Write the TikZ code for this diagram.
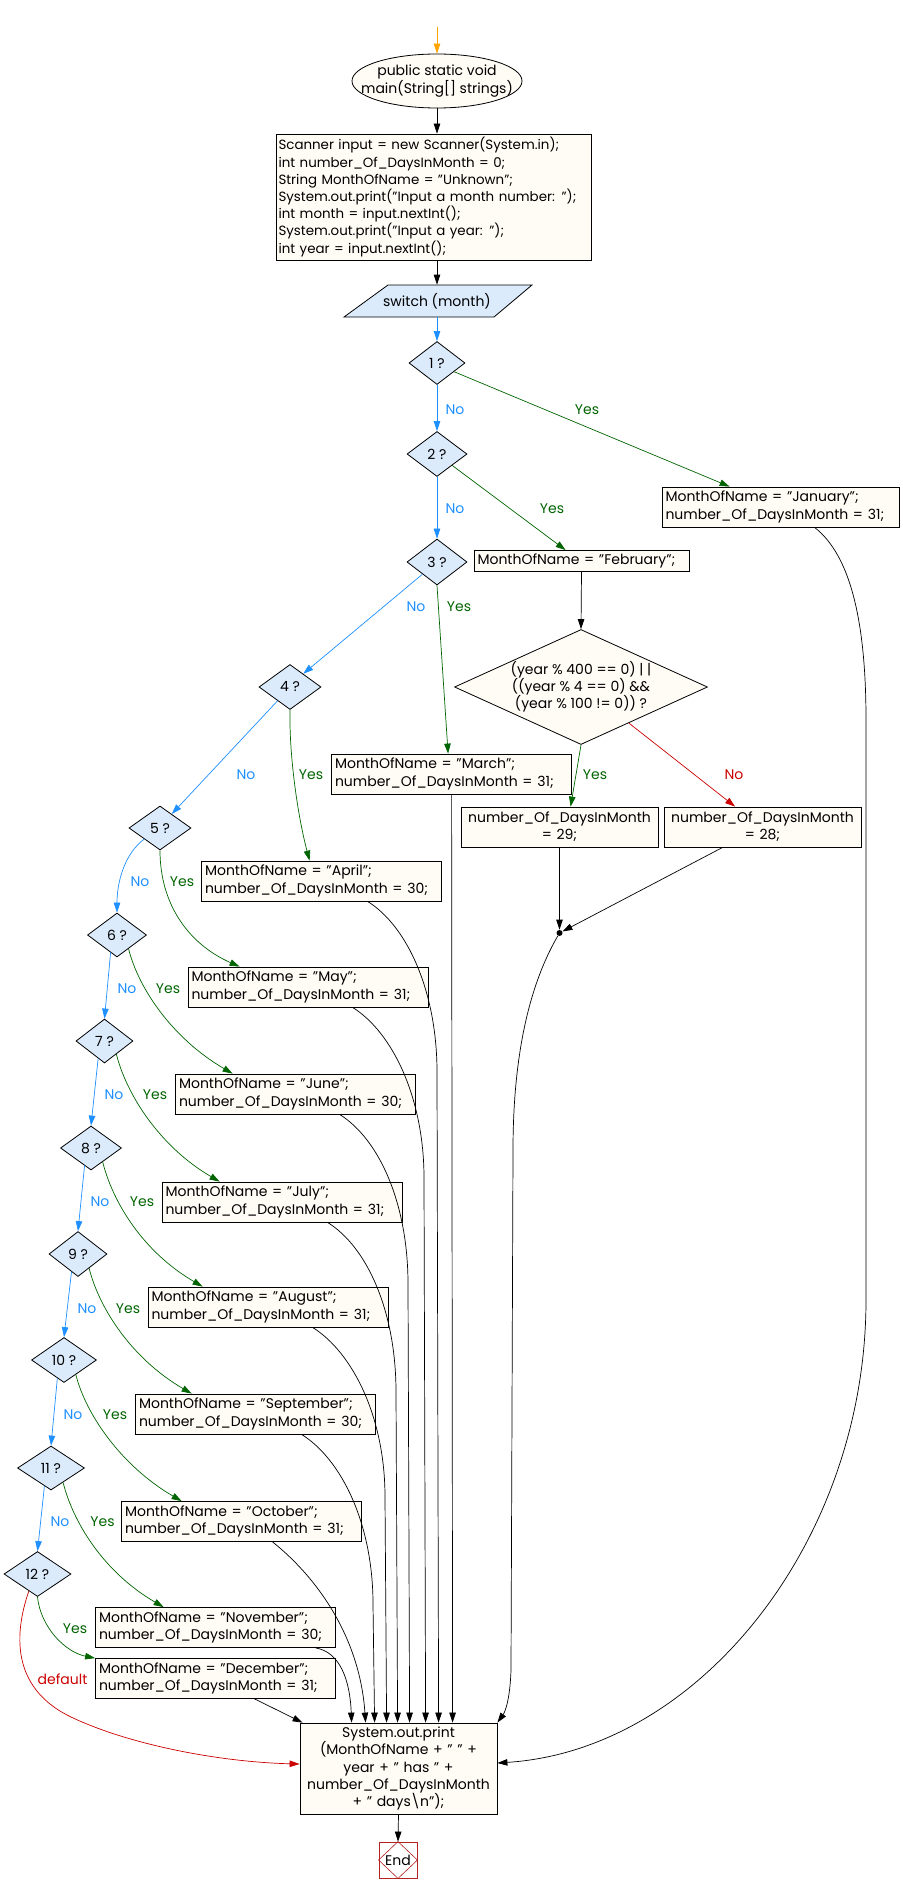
\documentclass[tikz,border=0pt]{standalone}
\usepackage{fontspec}
\setmainfont{Poppins}
\usetikzlibrary{arrows.meta,shapes.geometric,calc}
\definecolor{dfill}{RGB}{220,235,252}
\definecolor{bfill}{RGB}{255,251,245}
\definecolor{nob}{RGB}{30,144,255}
\definecolor{yesg}{RGB}{0,100,0}
\definecolor{nor}{RGB}{204,0,0}
\definecolor{endc}{RGB}{178,34,34}
\definecolor{startc}{RGB}{255,165,0}
\tikzset{
  tip/.style={-{Triangle[length=10pt,width=6.5pt]}},
  dec/.style={diamond, draw, fill=dfill, inner sep=0pt, aspect=1.4, line width=0.8pt},
  mbox/.style={rectangle, draw, fill=bfill, inner xsep=3.5pt, inner ysep=0pt, minimum height=40pt, text width=233pt, align=left, line width=0.8pt},
  lab/.style={inner sep=1pt},
}
\begin{document}
\begin{tikzpicture}[x=1pt,y=-1pt,line width=0.7pt,font=\fontsize{14}{17.2}\selectfont]
\useasboundingbox (0,0) rectangle (902,1894);
\fill[white] (0,0) rectangle (902,1894);

% start
\draw[fill=bfill, line width=0.8pt] (437,81) ellipse [x radius=85pt, y radius=27pt];
\node[minimum width=170pt, minimum height=54pt, inner sep=0pt, align=center] (main) at (437,81) {public static void\\main(String[] strings)};
\coordinate (start) at (437,27);
\draw[tip, startc] (start) -- (main.north);

\node[mbox, minimum width=315pt, minimum height=126pt, text width=310pt, inner xsep=2.5pt, font=\fontsize{13.4}{17.2}\selectfont] (code) at (433.5,197) {Scanner input = new Scanner(System.in);\\int number\_Of\_DaysInMonth = 0;\\String MonthOfName = "Unknown";\\System.out.print("Input a month number: ");\\int month = input.nextInt();\\System.out.print("Input a year: ");\\int year = input.nextInt();};
\draw[tip] (main.south) -- (main.south |- code.north);

\path[draw, fill=dfill, line width=0.8pt] (344,317) -- (494,317) -- (532,285) -- (388,285) -- cycle;
\node[inner sep=0pt, minimum width=100pt, minimum height=32pt] (sw) at (437,301) {switch (month)};
\draw[tip] (sw.north |- code.south) -- (sw.north);

% decisions
\node[dec, minimum width=56pt, minimum height=43pt] (d1) at (437,363) {1 ?};
\node[dec, minimum width=60pt, minimum height=45pt] (d2) at (437,454) {2 ?};
\node[dec, minimum width=60pt, minimum height=46pt] (d3) at (437,562) {3 ?};
\node[dec, minimum width=62pt, minimum height=45pt] (d4) at (290,687) {4 ?};
\node[dec, minimum width=62pt, minimum height=44pt] (d5) at (160,828) {5 ?};
\node[dec, minimum width=59pt, minimum height=44pt] (d6) at (117,935) {6 ?};
\node[dec, minimum width=57pt, minimum height=44pt] (d7) at (104.5,1041) {7 ?};
\node[dec, minimum width=61pt, minimum height=44pt] (d8) at (91,1148) {8 ?};
\node[dec, minimum width=58pt, minimum height=45pt] (d9) at (78,1254) {9 ?};
\node[dec, minimum width=65pt, minimum height=45pt] (d10) at (64,1360) {10 ?};
\node[dec, minimum width=67pt, minimum height=44pt] (d11) at (51,1468) {11 ?};
\node[dec, minimum width=67pt, minimum height=45pt] (d12) at (37.5,1574) {12 ?};

% month boxes
\node[mbox, minimum width=237pt, text width=230pt] (jan) at (780.5,507) {MonthOfName = "January";\\number\_Of\_DaysInMonth = 31;};
\node[mbox, minimum height=21pt, text width=208pt] (feb) at (581.5,561) {MonthOfName = "February";};
\node[mbox] (mar) at (451.5,774) {MonthOfName = "March";\\number\_Of\_DaysInMonth = 31;};
\node[mbox] (apr) at (321.5,881) {MonthOfName = "April";\\number\_Of\_DaysInMonth = 30;};
\node[mbox] (may) at (308,987) {MonthOfName = "May";\\number\_Of\_DaysInMonth = 31;};
\node[mbox] (jun) at (295.5,1094) {MonthOfName = "June";\\number\_Of\_DaysInMonth = 30;};
\node[mbox] (jul) at (282,1202) {MonthOfName = "July";\\number\_Of\_DaysInMonth = 31;};
\node[mbox] (aug) at (268,1307) {MonthOfName = "August";\\number\_Of\_DaysInMonth = 31;};
\node[mbox] (sep) at (255.5,1414) {MonthOfName = "September";\\number\_Of\_DaysInMonth = 30;};
\node[mbox] (oct) at (241.5,1521.5) {MonthOfName = "October";\\number\_Of\_DaysInMonth = 31;};
\node[mbox] (nov) at (215.5,1627.5) {MonthOfName = "November";\\number\_Of\_DaysInMonth = 30;};
\node[mbox] (dec) at (215.5,1678.5) {MonthOfName = "December";\\number\_Of\_DaysInMonth = 31;};

% leap year
\node[diamond, draw, fill=bfill, aspect=2.2, inner sep=0pt, minimum width=247pt, minimum height=113pt, align=center, line width=0.8pt] (leap) at (581,687) {(year \% 400 == 0) | |\\((year \% 4 == 0) \&\&\\(year \% 100 != 0)) ?};
\node[mbox, text width=190pt, align=center] (b29) at (559.5,827) {number\_Of\_DaysInMonth\\= 29;};
\node[mbox, text width=190pt, align=center] (b28) at (762.5,827) {number\_Of\_DaysInMonth\\= 28;};
\node[circle, fill=black, inner sep=0pt, minimum size=6pt] (dot) at (559.5,933) {};

% print and end
\node[mbox, text width=190pt, align=center, minimum height=91pt] (print) at (398.5,1768.5) {System.out.print\\(MonthOfName + " " +\\year + " has " +\\number\_Of\_DaysInMonth\\+ " days\textbackslash n");};
\node[draw=endc, fill=white, minimum width=38pt, minimum height=36pt, inner sep=0pt, line width=0.8pt] (end) at (398,1860) {};
\draw[endc, line width=0.6pt] (end.north) -- (end.west) -- (end.south) -- (end.east) -- cycle;
\node[inner sep=0pt] (endt) at (end.center) {End};
\draw[tip] (print.south) -- (end.north);

% No connectors
\draw[tip, nob] (sw.south) -- (d1.north);
\draw[tip, nob] (d1.south) -- (d2.north);
\draw[tip, nob] (d2.south) -- (d3.north);
\draw[tip, nob] (d3.220) -- (d4.45);
\draw[tip, nob] (d4.228) -- (d5.50);
\draw[tip, nob] (d5.215) .. controls +(-20,15) and +(0,-30) .. (d6.north);
\draw[tip, nob] (d6.250) -- (d7.north);
\draw[tip, nob] (d7.250) -- (d8.north);
\draw[tip, nob] (d8.250) -- (d9.north);
\draw[tip, nob] (d9.250) -- (d10.north);
\draw[tip, nob] (d10.250) -- (d11.north);
\draw[tip, nob] (d11.250) -- (d12.north);

% Yes connectors
\draw[tip, yesg] (d1.-27) -- ($(jan.north west)+(68,0)$);
\draw[tip, yesg] (d2.-37) -- ($(feb.north west)+(92,0)$);
\draw[tip, yesg] (d3.south) -- ($(mar.north west)+(117,0)$);
\draw[tip, yesg] (d4.south) .. controls +(-1,45) and +(-12,-45) .. ($(apr.north west)+(108.5,0)$);
\draw[tip, yesg] (d5.south) .. controls +(0,55) and +(-50,-22) .. ($(may.north west)+(52,0)$);
\draw[tip, yesg] (d6.-50) .. controls +(10,40) and +(-60,-35) .. ($(jun.north west)+(57.5,0)$);
\draw[tip, yesg] (d7.-48) .. controls +(10,40) and +(-60,-35) .. ($(jul.north west)+(58,0)$);
\draw[tip, yesg] (d8.-50) .. controls +(10,40) and +(-60,-35) .. ($(aug.north west)+(55,0)$);
\draw[tip, yesg] (d9.-52) .. controls +(10,40) and +(-60,-35) .. ($(sep.north west)+(56.5,0)$);
\draw[tip, yesg] (d10.-51) .. controls +(10,40) and +(-60,-35) .. ($(oct.north west)+(60.5,0)$);
\draw[tip, yesg] (d11.-50) .. controls +(10,40) and +(-60,-35) .. ($(nov.north west)+(68.5,0)$);
\draw[tip, yesg] (d12.south) .. controls +(3,30) and +(-30,-6) .. (dec.north west);
\draw[tip, nor] (d12.243) .. controls (12,1640) and (15,1690) .. (71,1717) .. controls (130,1745) and (220,1762) .. ($(print.west)+(0,-4.5)$);

% leap connectors
\draw[tip] (feb.south) -- (leap.north);
\draw[tip, yesg] (leap.south) -- ($(b29.north west)+(110,0)$);
\draw[tip, nor] (leap.-37) -- ($(b28.north west)+(71.5,0)$);
\draw[tip] (b29.south) -- (dot);
\draw[tip] ($(b28.south west)+(59,0)$) -- (dot);
\draw[tip] (dot) .. controls (535,975) and (513,1040) .. (513,1150) -- (511,1670) .. controls (510,1700) and (505,1712) .. (print.north east);

% month -> print
\draw[tip] ($(jan.south west)+(153,0)$) .. controls (850,555) and (866,620) .. (866,720) -- (866,1300) .. controls (866,1540) and (700,1750) .. ($(print.east)+(0,-5.5)$);
\draw[tip] ($(mar.south west)+(120.5,0)$) -- ($(print.north west)+(153,0)$);
\draw[tip] ($(apr.south west)+(166.5,0)$) .. controls +(40,25) and +(0,-80) .. (437,1072) -- ($(print.north west)+(139,0)$);
\draw[tip] ($(may.south west)+(165,0)$) .. controls +(40,25) and +(0,-80) .. (424,1178) -- ($(print.north west)+(126,0)$);
\draw[tip] ($(jun.south west)+(164.5,0)$) .. controls +(40,25) and +(0,-80) .. (408,1284) -- ($(print.north west)+(110,0)$);
\draw[tip] ($(jul.south west)+(166,0)$) .. controls +(40,25) and +(0,-80) .. (396,1392) -- ($(print.north west)+(98,0)$);
\draw[tip] ($(aug.south west)+(165,0)$) .. controls +(40,25) and +(0,-80) .. (385,1497) -- ($(print.north west)+(87,0)$);
\draw[tip] ($(sep.south west)+(166.5,0)$) .. controls +(40,25) and +(0,-80) .. (373,1604) -- ($(print.north west)+(75,0)$);
\draw[tip] ($(oct.south west)+(151.5,0)$) .. controls (320,1580) and (360,1640) .. ($(print.north west)+(66,0)$);
\draw[tip] ($(nov.south west)+(220.5,0)$) .. controls (340,1652) and (350,1680) .. ($(print.north west)+(52,0)$);
\draw[tip] ($(dec.south west)+(159.5,0)$) -- ($(print.north west)+(3,0)$);

% labels
\node[lab, text=nob] (n1) at (455,410) {No};
\node[lab, text=nob] (n2) at (455,509) {No};
\node[lab, text=nob] (n3) at (416,607) {No};
\node[lab, text=nob] (n4) at (246,775) {No};
\node[lab, text=nob] (n5) at (140,882) {No};
\node[lab, text=nob] (n6) at (127,989) {No};
\node[lab, text=nob] (n7) at (114,1095) {No};
\node[lab, text=nob] (n8) at (100,1202) {No};
\node[lab, text=nob] (n9) at (87,1309) {No};
\node[lab, text=nob] (n10) at (73,1415) {No};
\node[lab, text=nob] (n11) at (60,1522) {No};
\node[lab, text=yesg] (y1) at (587,410) {Yes};
\node[lab, text=yesg] (y2) at (552,509) {Yes};
\node[lab, text=yesg] (y3) at (459,607) {Yes};
\node[lab, text=yesg] (y4) at (311,775) {Yes};
\node[lab, text=yesg] (y5) at (182,882) {Yes};
\node[lab, text=yesg] (y6) at (168,989) {Yes};
\node[lab, text=yesg] (y7) at (155,1095) {Yes};
\node[lab, text=yesg] (y8) at (142,1202) {Yes};
\node[lab, text=yesg] (y9) at (128,1309) {Yes};
\node[lab, text=yesg] (y10) at (115,1415) {Yes};
\node[lab, text=yesg] (y11) at (102.5,1522) {Yes};
\node[lab, text=yesg] (y12) at (75,1629) {Yes};
\node[lab, text=yesg] (ly) at (595,775) {Yes};
\node[lab, text=nor] (ln) at (734,775) {No};
\node[lab, text=nor] (ldef) at (62.5,1679) {default};
\end{tikzpicture}
\end{document}
